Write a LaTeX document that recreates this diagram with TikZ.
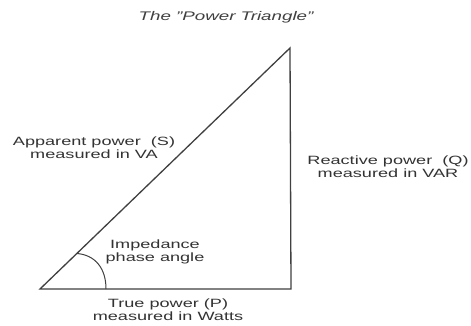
\documentclass[tikz,border=0pt]{standalone}
\usepackage{fontspec}
\setmainfont{Liberation Sans}
\begin{document}
\begin{tikzpicture}[x=1pt,y=-1pt,
  edge/.style={draw=black!75, line width=1.3pt},
  lbl/.style={text=black!80, font=\fontsize{12}{13}\selectfont, align=center, inner sep=0pt, xscale=1.51, transform shape},
  ttl/.style={text=black!75, font=\fontsize{12.5}{13}\selectfont\itshape, inner sep=0pt, xscale=1.5, transform shape}]
\useasboundingbox[fill=white] (0,0) rectangle (471,326);
\coordinate (A) at (40,289);
\coordinate (B) at (291,289);
\coordinate (C) at (290,48);
\coordinate (a1) at (106,289);
\coordinate (a2) at (77,253.5);
\draw[edge, line join=miter] (A) -- (B) -- (C) -- cycle;
\draw[edge, line width=1pt] (a1) .. controls (106,268) and (95,255) .. (a2);
\node[ttl] (title) at (226,17) {The "Power Triangle"};
\node[lbl] (app) at (94,148) {Apparent power\ \ (S)\\measured in VA};
\node[lbl] (react) at (388,167) {Reactive power\ \ (Q)\\measured in VAR};
\node[lbl] (imp) at (155,252) {Impedance\\phase angle};
\node[lbl] (true) at (168,310) {True power (P)\\measured in Watts};
\end{tikzpicture}
\end{document}
